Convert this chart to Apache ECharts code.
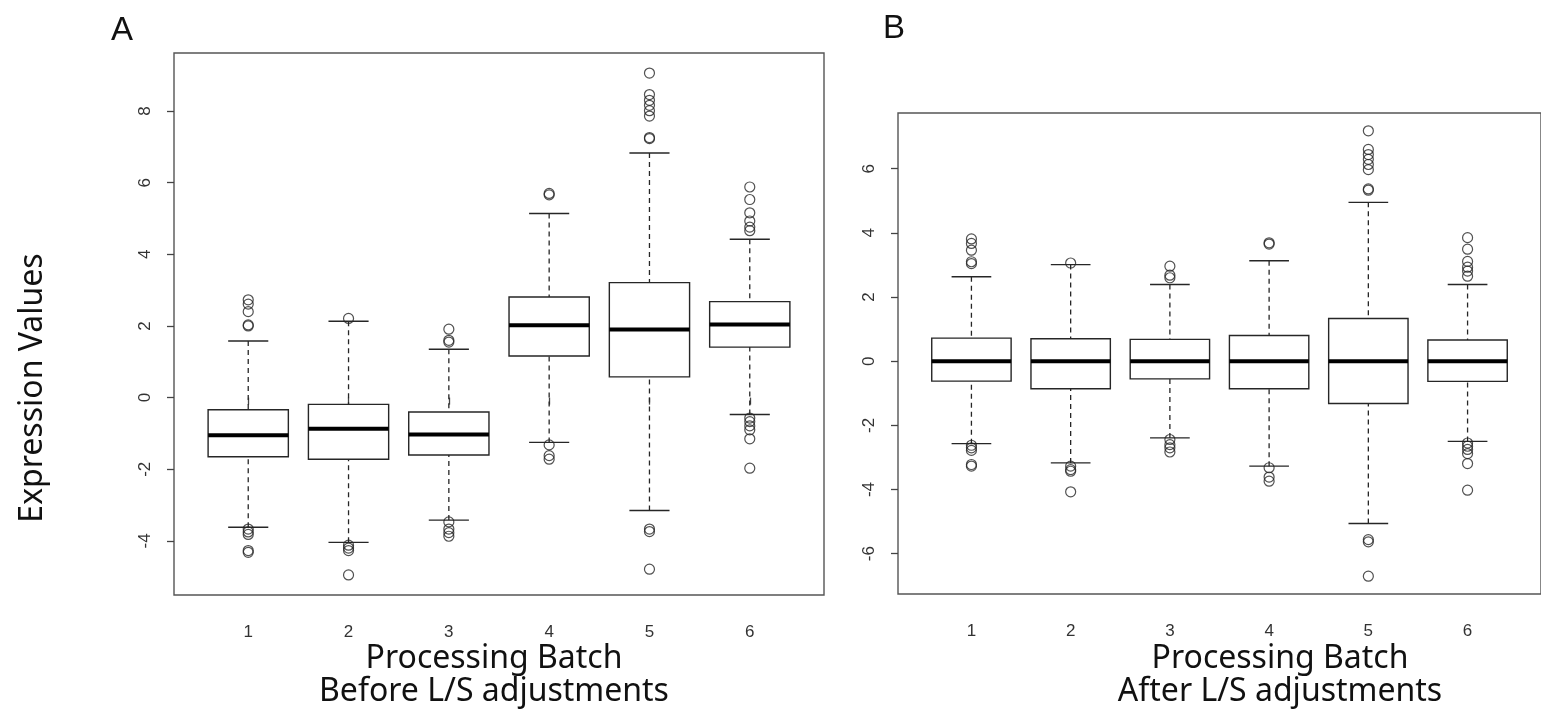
<!DOCTYPE html>
<html>
<head>
<meta charset="utf-8">
<script src="https://cdn.jsdelivr.net/npm/echarts@6/dist/echarts.min.js"></script>
<style>
html,body{margin:0;padding:0;background:#fff;}
#chart{width:1541px;height:713px;}
</style>
</head>
<body>
<div id="chart"></div>
<script>
// ---- categories / ticks ----
const batches = [1, 2, 3, 4, 5, 6];
const yTicksA = [-4, -2, 0, 2, 4, 6, 8];
const yTicksB = [-6, -4, -2, 0, 2, 4, 6];

// ---- Panel A: before L/S adjustments ----
const beforeLowWhisker = [-3.62, -4.04, -3.42, -1.25, -3.15, -0.47];
const beforeQ1         = [-1.65, -1.72, -1.60,  1.16,  0.58,  1.41];
const beforeMedian     = [-1.05, -0.87, -1.03,  2.02,  1.90,  2.04];
const beforeQ3         = [-0.34, -0.19, -0.40,  2.81,  3.21,  2.68];
const beforeHighWhisker= [ 1.58,  2.13,  1.35,  5.14,  6.83,  4.42];
const beforeOutliers = [
  [2.73, 2.61, 2.40, 2.03, 2.00, -3.67, -3.75, -3.82, -4.27, -4.32],
  [2.21, -4.12, -4.20, -4.27, -4.95],
  [1.91, 1.60, 1.55, -3.47, -3.67, -3.77, -3.87],
  [5.70, 5.66, -1.32, -1.62, -1.72],
  [9.06, 8.46, 8.30, 8.16, 8.01, 7.86, 7.26, 7.23, -3.67, -3.74, -4.79],
  [5.88, 5.53, 5.16, 4.93, 4.76, 4.66, -0.57, -0.67, -0.79, -0.90, -1.15, -1.97]
];

// ---- Panel B: after L/S adjustments ----
const afterLowWhisker  = [-2.57, -3.17, -2.39, -3.27, -5.06, -2.50];
const afterQ1          = [-0.62, -0.86, -0.55, -0.86, -1.32, -0.63];
const afterMedian      = [ 0.00,  0.00,  0.00,  0.00,  0.00,  0.00];
const afterQ3          = [ 0.72,  0.70,  0.68,  0.80,  1.33,  0.66];
const afterHighWhisker = [ 2.63,  3.01,  2.39,  3.13,  4.95,  2.39];
const afterOutliers = [
  [3.81, 3.67, 3.46, 3.10, 3.04, -2.62, -2.70, -2.78, -3.22, -3.27],
  [3.06, -3.27, -3.38, -3.43, -4.07],
  [2.96, 2.68, 2.60, -2.44, -2.60, -2.70, -2.83],
  [3.69, 3.65, -3.32, -3.61, -3.74],
  [7.18, 6.60, 6.44, 6.29, 6.13, 5.97, 5.37, 5.33, -5.56, -5.63, -6.70],
  [3.85, 3.49, 3.11, 2.93, 2.81, 2.65, -2.55, -2.65, -2.75, -2.88, -3.19, -4.02]
];

// ---- build library data ----
function boxData(lo, q1, med, q3, hi) {
  return batches.map((b, i) => [b, lo[i], q1[i], med[i], q3[i], hi[i]]);
}
function outlierData(outs) {
  const res = [];
  batches.forEach((b, i) => outs[i].forEach(v => res.push([b, v])));
  return res;
}
function rangeOf(lo, hi, outs) {
  // R style: data range extended by 4% each side
  let mn = Math.min(...lo), mx = Math.max(...hi);
  outs.forEach(a => a.forEach(v => { mn = Math.min(mn, v); mx = Math.max(mx, v); }));
  const e = (mx - mn) * 0.04;
  return [mn - e, mx + e];
}
const rangeA = rangeOf(beforeLowWhisker, beforeHighWhisker, beforeOutliers);
const rangeB = rangeOf(afterLowWhisker, afterHighWhisker, afterOutliers);
const xRange = [0.5 - 6 * 0.04, 6.5 + 6 * 0.04];

const INK = '#262626';
function renderBox(params, api) {
  const x = api.value(0), lo = api.value(1), q1 = api.value(2),
        med = api.value(3), q3 = api.value(4), hi = api.value(5);
  const half = 0.4, staple = 0.2;
  const tl = api.coord([x - half, q3]);
  const br = api.coord([x + half, q1]);
  const cHi = api.coord([x, hi]), cLo = api.coord([x, lo]);
  const cQ3 = api.coord([x, q3]), cQ1 = api.coord([x, q1]);
  const sL = api.coord([x - staple, hi])[0], sR = api.coord([x + staple, hi])[0];
  const mL = api.coord([x - half, med]), mR = api.coord([x + half, med]);
  const solid = { stroke: INK, lineWidth: 1.4, fill: null };
  const dashed = { stroke: INK, lineWidth: 1.3, lineDash: [5, 4], fill: null };
  return {
    type: 'group',
    children: [
      { type: 'line', shape: { x1: cHi[0], y1: cHi[1], x2: cQ3[0], y2: cQ3[1] }, style: dashed },
      { type: 'line', shape: { x1: cLo[0], y1: cLo[1], x2: cQ1[0], y2: cQ1[1] }, style: dashed },
      { type: 'line', shape: { x1: sL, y1: cHi[1], x2: sR, y2: cHi[1] }, style: solid },
      { type: 'line', shape: { x1: sL, y1: cLo[1], x2: sR, y2: cLo[1] }, style: solid },
      { type: 'rect', shape: { x: tl[0], y: tl[1], width: br[0] - tl[0], height: br[1] - tl[1] },
        style: { stroke: INK, lineWidth: 1.4, fill: '#fff' } },
      { type: 'line', shape: { x1: mL[0], y1: mL[1], x2: mR[0], y2: mR[1] },
        style: { stroke: '#000', lineWidth: 4 } }
    ]
  };
}

const tickFont = { fontFamily: 'Liberation Sans', fontSize: 17, color: '#333' };
function xAxisFor(gi) {
  return {
    type: 'value', gridIndex: gi, min: xRange[0], max: xRange[1],
    splitLine: { show: false },
    axisLine: { show: false },
    axisTick: { show: true, inside: false, length: 7, customValues: batches,
                lineStyle: { color: '#444', width: 1.3 } },
    axisLabel: Object.assign({ customValues: batches, margin: 29 }, tickFont)
  };
}
function yAxisFor(gi, rng, ticks) {
  return {
    type: 'value', gridIndex: gi, min: rng[0], max: rng[1],
    splitLine: { show: false },
    axisLine: { show: false },
    axisTick: { show: true, inside: false, length: 7, customValues: ticks,
                lineStyle: { color: '#444', width: 1.3 } },
    axisLabel: Object.assign({ customValues: ticks, rotate: 90, margin: 20 }, tickFont)
  };
}

const chart = echarts.init(document.getElementById('chart'), null, { renderer: 'canvas' });
const bigFont = '32px "Noto Sans"';
chart.setOption({
  backgroundColor: '#fff',
  animation: false,
  title: [
    { text: 'A', left: 106, top: 9, textStyle: { fontFamily: 'Liberation Sans', fontSize: 33, fontWeight: 'normal', color: '#111' } },
    { text: 'B', left: 878, top: 7, textStyle: { fontFamily: 'Liberation Sans', fontSize: 33, fontWeight: 'normal', color: '#111' } }
  ],
  grid: [
    { left: 174, top: 53, width: 650, height: 542, show: true, borderColor: '#555', borderWidth: 1.4, backgroundColor: 'transparent' },
    { left: 898, top: 113, width: 650, height: 481, show: true, borderColor: '#555', borderWidth: 1.4, backgroundColor: 'transparent' }
  ],
  xAxis: [xAxisFor(0), xAxisFor(1)],
  yAxis: [yAxisFor(0, rangeA, yTicksA), yAxisFor(1, rangeB, yTicksB)],
  series: [
    { type: 'custom', xAxisIndex: 0, yAxisIndex: 0, renderItem: renderBox,
      data: boxData(beforeLowWhisker, beforeQ1, beforeMedian, beforeQ3, beforeHighWhisker) },
    { type: 'scatter', xAxisIndex: 0, yAxisIndex: 0, symbol: 'circle', symbolSize: 10,
      itemStyle: { color: 'rgba(0,0,0,0)', borderColor: INK, borderWidth: 1.2 },
      data: outlierData(beforeOutliers) },
    { type: 'custom', xAxisIndex: 1, yAxisIndex: 1, renderItem: renderBox,
      data: boxData(afterLowWhisker, afterQ1, afterMedian, afterQ3, afterHighWhisker) },
    { type: 'scatter', xAxisIndex: 1, yAxisIndex: 1, symbol: 'circle', symbolSize: 10,
      itemStyle: { color: 'rgba(0,0,0,0)', borderColor: INK, borderWidth: 1.2 },
      data: outlierData(afterOutliers) }
  ],
  graphic: [
    { type: 'text', x: 494, y: 659, style: { text: 'Processing Batch', font: bigFont, fill: '#111', textAlign: 'center', textVerticalAlign: 'middle' } },
    { type: 'text', x: 494, y: 692, style: { text: 'Before L/S adjustments', font: bigFont, fill: '#111', textAlign: 'center', textVerticalAlign: 'middle' } },
    { type: 'text', x: 1280, y: 659, style: { text: 'Processing Batch', font: bigFont, fill: '#111', textAlign: 'center', textVerticalAlign: 'middle' } },
    { type: 'text', x: 1280, y: 692, style: { text: 'After L/S adjustments', font: bigFont, fill: '#111', textAlign: 'center', textVerticalAlign: 'middle' } },
    { type: 'text', x: 33, y: 388, rotation: Math.PI / 2, style: { text: 'Expression Values', font: bigFont, fill: '#111', textAlign: 'center', textVerticalAlign: 'middle' } }
  ]
});
</script>
</body>
</html>
